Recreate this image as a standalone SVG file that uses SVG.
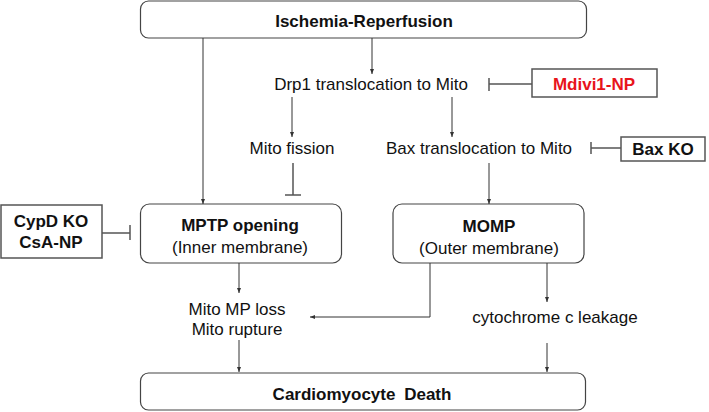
<svg xmlns="http://www.w3.org/2000/svg" width="709" height="412" viewBox="0 0 709 412">
<style>
.rb{fill:#fff;stroke:#444;stroke-width:1.2}
.sb{fill:#fff;stroke:#555;stroke-width:1.5}
.t{font-family:"Liberation Sans",Arial,sans-serif;font-size:17px;fill:#111;text-anchor:middle}
.b{font-weight:bold}
.red{fill:#e8141b}
.ln{fill:none;stroke:#333;stroke-width:1}
.inh{fill:none;stroke:#555;stroke-width:1.5}
</style>
<defs>
<marker id="ah" viewBox="0 0 10 10" refX="10" refY="5" markerWidth="5" markerHeight="5" markerUnits="userSpaceOnUse" orient="auto">
<path d="M0,1 L10,5 L0,9 z" fill="#333"/>
</marker>
</defs>
<rect width="709" height="412" fill="#fff"/>
<g id="ischemia">
<rect class="rb" x="140.5" y="1" width="446" height="37" rx="8"/>
<text class="t b" x="364" y="27" font-size="19">Ischemia-Reperfusion</text>
</g>
<g id="drp1"><text class="t" x="371" y="90">Drp1 translocation to Mito</text></g>
<g id="mdivi">
<rect class="sb" x="532" y="69" width="125" height="28"/>
<text class="t b red" x="594" y="90" font-size="19">Mdivi1-NP</text>
</g>
<g id="fission"><text class="t" x="292" y="154">Mito fission</text></g>
<g id="bax"><text class="t" x="479" y="154">Bax translocation to Mito</text></g>
<g id="baxko">
<rect class="sb" x="621" y="137" width="84" height="24"/>
<text class="t b" x="663" y="155" font-size="17.5">Bax KO</text>
</g>
<g id="cypd">
<rect class="sb" x="1" y="205" width="101" height="53"/>
<text class="t b" x="51" y="227">CypD KO</text>
<text class="t b" x="51" y="248">CsA-NP</text>
</g>
<g id="mptp">
<rect class="rb" x="140.5" y="204" width="201" height="59" rx="9"/>
<text class="t b" x="240" y="231">MPTP opening</text>
<text class="t" x="240" y="253">(Inner membrane)</text>
</g>
<g id="momp">
<rect class="rb" x="393" y="204" width="191" height="59" rx="9"/>
<text class="t b" x="489" y="232" font-size="18.5">MOMP</text>
<text class="t" x="489" y="254">(Outer membrane)</text>
</g>
<g id="mploss">
<text class="t" x="237" y="315">Mito MP loss</text>
<text class="t" x="237" y="335">Mito rupture</text>
</g>
<g id="cytc"><text class="t" x="555" y="323">cytochrome c leakage</text></g>
<g id="death">
<rect class="rb" x="140.5" y="373" width="445" height="37" rx="8"/>
<text class="t b" x="362" y="400" font-size="19">Cardiomyocyte <tspan dx="4">Death</tspan></text>
</g>
<g id="connectors">
<path class="ln" d="M203,38 V204" marker-end="url(#ah)"/>
<path class="ln" d="M372,38 V74" marker-end="url(#ah)"/>
<path class="ln" d="M292,97 V137" marker-end="url(#ah)"/>
<path class="ln" d="M452,97 V137" marker-end="url(#ah)"/>
<path class="ln" d="M489,163 V204" marker-end="url(#ah)"/>
<path class="ln" d="M239,263 V293" marker-end="url(#ah)"/>
<path class="ln" d="M239,340 V372" marker-end="url(#ah)"/>
<path class="ln" d="M430,263 V317 H310" marker-end="url(#ah)"/>
<path class="ln" d="M547,263 V302" marker-end="url(#ah)"/>
<path class="ln" d="M547,343 V372" marker-end="url(#ah)"/>
<path class="inh" d="M532,84 H489 M489,78 V91"/>
<path class="inh" d="M621,148 H591 M591,142 V154"/>
<path class="inh" d="M102,233 H130 M130,225 V240"/>
<path class="inh" d="M293,163 V195 M285,195 H301"/>
</g>
</svg>
